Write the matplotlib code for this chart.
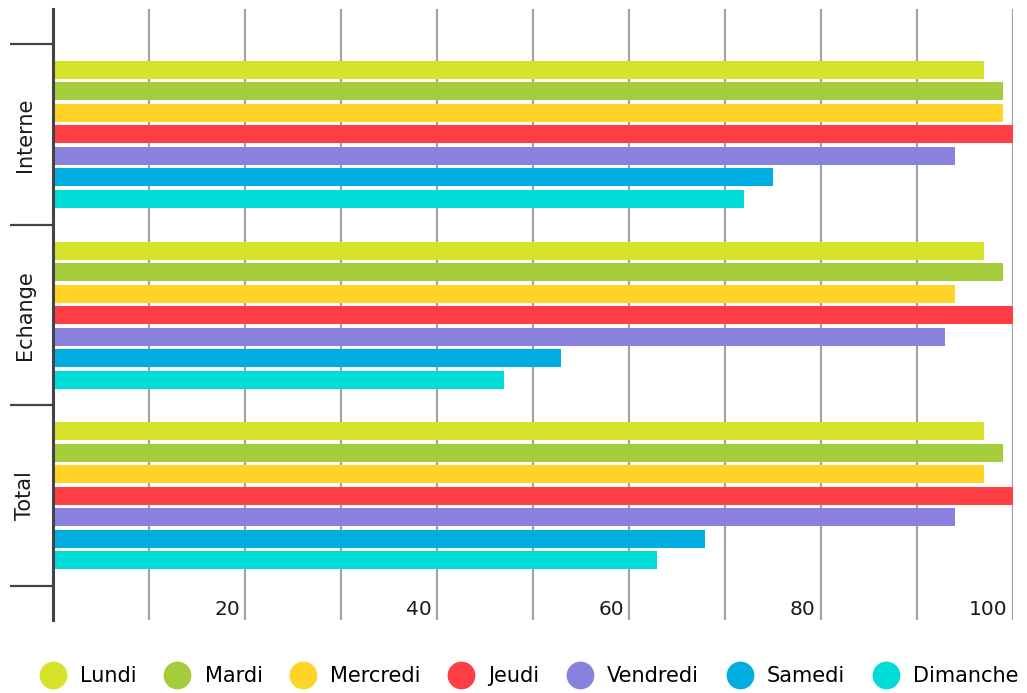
import matplotlib
matplotlib.use("Agg")
import matplotlib.pyplot as plt
from matplotlib.lines import Line2D
from matplotlib import transforms

plt.rcParams['font.family'] = ['DejaVu Sans']

groups = ["Interne", "Echange", "Total"]
days = ["Lundi", "Mardi", "Mercredi", "Jeudi", "Vendredi", "Samedi", "Dimanche"]
colors = ["#d7e22b", "#a5cc3b", "#ffd426", "#ff3d45", "#8881dd", "#00ade1", "#00dcd8"]

interne = [97, 99, 99, 100, 94, 75, 72]
echange = [97, 99, 94, 100, 93, 53, 47]
total = [97, 99, 97, 100, 94, 68, 63]
values = [interne, echange, total]

x_ticks = [10, 20, 30, 40, 50, 60, 70, 80, 90, 100]
x_labels = [20, 40, 60, 80, 100]

W, H = 1027, 693
fig = plt.figure(figsize=(W / 100, H / 100), dpi=100)
ax = fig.add_axes([52.7 / W, (H - 620) / H, (1013 - 52.7) / W, (620 - 9) / H])

step = 0.119
bh = 0.0997
for gi, vals in enumerate(values):
    for j, v in enumerate(vals):
        ax.barh(gi + (j - 3) * step, v, height=bh, color=colors[j], zorder=3)

ax.set_xlim(0, 100.05)
ax.set_ylim(2.688, -0.694)

ax.set_xticks(x_ticks)
ax.tick_params(axis='x', length=0, labelbottom=False)
ax.grid(axis='x', color='#a3a3a3', linewidth=1.6, zorder=0)
ax.grid(axis='y', visible=False)

for s in ['top', 'right', 'bottom']:
    ax.spines[s].set_visible(False)
ax.spines['left'].set_color('#444448')
ax.spines['left'].set_linewidth(2.2)
ax.spines['left'].set_zorder(5)

# group boundary ticks
ax.set_yticks([-0.5, 0.5, 1.5, 2.5])
ax.set_yticklabels([])
ax.tick_params(axis='y', length=31, width=1.6, color='#444448')

trans = transforms.blended_transform_factory(ax.transData, ax.transAxes)
for v in x_labels:
    ax.text(v - 0.5, 0.017, str(v), transform=trans, ha='right', va='center',
            fontsize=14.5, color='#1a1a1a', zorder=6)

trans_y = transforms.blended_transform_factory(ax.transAxes, ax.transData)
for gi, g in enumerate(groups):
    ax.text(-27.5 / 960, gi, g, transform=trans_y, rotation=90, ha='center',
            va='center', fontsize=15, color='#1a1a1a')

handles = [Line2D([], [], marker='o', ls='', ms=20, color=c, markeredgewidth=0) for c in colors]
fig.legend(handles, days, loc='center', bbox_to_anchor=(0.5156, 1 - 676 / H), ncol=7,
           frameon=False, handletextpad=0.7, columnspacing=1.35, fontsize=15,
           handlelength=1.2, borderaxespad=0)

fig.savefig("out.png", dpi=100)
